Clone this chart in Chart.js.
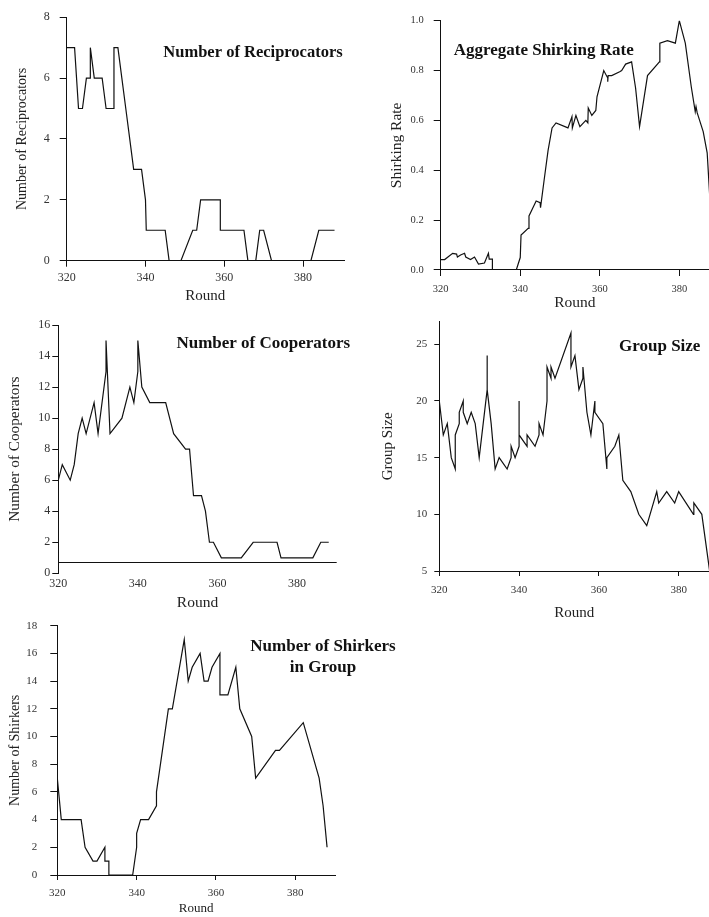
<!DOCTYPE html>
<html>
<head>
<meta charset="utf-8">
<script src="https://cdn.jsdelivr.net/npm/chart.js@4.4.1/dist/chart.umd.min.js"></script>
<style>
  body { margin: 0; background: #fff; }
  #wrap { position: relative; width: 709px; height: 917px; overflow: hidden; }
  #wrap canvas { position: absolute; left: 0; top: 0; }
</style>
</head>
<body>
<div id="wrap">
  <canvas id="recip" width="709" height="917"></canvas>
  <canvas id="shirkRate" width="709" height="917"></canvas>
  <canvas id="coop" width="709" height="917"></canvas>
  <canvas id="groupSize" width="709" height="917"></canvas>
  <canvas id="shirkers" width="709" height="917"></canvas>
</div>
<script>
'use strict'
/* global Chart */

// shared x axis
const roundTicks = [320, 340, 360, 380]

// Number of Reciprocators
const recipRounds = [320, 322, 323, 324, 325, 326, 326, 327, 329, 330, 332, 332, 333, 334, 335, 336, 337, 339, 340, 340.2, 345, 346, 349, 352, 353, 354, 359, 359, 365, 366, 368, 369, 370, 372, 382, 384, 388]
const recipValues = [7, 7, 5, 5, 6, 6, 7, 6, 6, 5, 5, 7, 7, 6, 5, 4, 3, 3, 2, 1, 1, 0, 0, 1, 1, 2, 2, 1, 1, 0, 0, 1, 1, 0, 0, 1, 1]
const recipTicks = [0, 2, 4, 6, 8]

// Aggregate Shirking Rate
const rateRounds = [320, 321, 323, 324, 324.2, 325, 326, 326.3, 327.5, 328.5, 329.5, 331, 332, 332.2, 333, 333, 339, 340, 340.2, 342, 342.2, 344, 345, 345.1, 346, 347, 348, 349, 352, 353, 353.1, 354, 355, 356.5, 357, 357.1, 358, 359, 359.3, 361, 362, 362, 362.1, 363, 365, 365.5, 366.5, 368, 369, 370, 372, 375, 375.1, 377, 379, 380, 381.5, 383, 384, 384.2, 384.5, 386, 387, 388]
const rateValues = [0.042, 0.042, 0.067, 0.064, 0.052, 0.06, 0.067, 0.052, 0.042, 0.052, 0.024, 0.028, 0.067, 0.044, 0.044, 0, 0, 0.05, 0.14, 0.167, 0.217, 0.277, 0.27, 0.25, 0.36, 0.48, 0.57, 0.59, 0.57, 0.615, 0.57, 0.62, 0.575, 0.6, 0.59, 0.65, 0.62, 0.64, 0.695, 0.8, 0.77, 0.755, 0.78, 0.78, 0.795, 0.8, 0.826, 0.835, 0.73, 0.575, 0.78, 0.835, 0.91, 0.92, 0.91, 1.0, 0.91, 0.735, 0.635, 0.655, 0.63, 0.555, 0.47, 0.2]
const rateTicks = [0, 0.2, 0.4, 0.6, 0.8, 1.0]

// Number of Cooperators
const coopRounds = [320, 321, 323, 324, 325, 326, 327, 329, 330, 332, 332, 333, 336, 338, 339, 340, 340, 341, 343, 347, 349, 352, 353, 354, 356, 357, 358, 359, 361, 366, 369, 375, 376, 384, 386, 388]
const coopValues = [6, 7, 6, 7, 9, 10, 9, 11, 9, 13, 15, 9, 10, 12, 11, 13, 15, 12, 11, 11, 9, 8, 8, 5, 5, 4, 2, 2, 1, 1, 2, 2, 1, 1, 2, 2]
const coopTicks = [0, 2, 4, 6, 8, 10, 12, 14, 16]
const coopBaseline = 0.7

// Group Size
const groupRounds = [320, 321, 322, 323, 324, 324, 325, 325, 326, 326, 327, 328, 329, 330, 332, 332, 332, 333, 334, 335, 337, 338, 338, 339, 340, 340, 340, 342, 342, 344, 345, 345, 346, 347, 347, 348, 348, 349, 353, 353, 354, 355, 356, 356, 357, 358, 359, 359, 361, 362, 362, 364, 365, 366, 368, 370, 372, 374.5, 375, 377, 379, 380, 383.7, 383.8, 385.8, 388]
const groupValues = [20, 17, 18, 15, 14, 17, 18, 19, 20, 19, 18, 19, 18, 15, 21, 24, 21, 18, 14, 15, 14, 15, 16, 15, 16, 20, 17, 16, 17, 16, 17, 18, 17, 20, 23, 22, 23, 22, 26, 23, 24, 21, 22, 23, 19, 17, 20, 19, 18, 14, 15, 16, 17, 13, 12, 10, 9, 12, 11, 12, 11, 12, 10, 11, 10, 4.4]
const groupTicks = [5, 10, 15, 20, 25]

// Number of Shirkers in Group
const shirkRounds = [320, 321, 326, 327, 329, 330, 332, 332, 333, 333, 339, 340, 340, 341, 343, 345, 345, 348, 349, 352, 353, 354, 356, 357, 358, 359, 361, 361, 363, 365, 366, 369, 370, 375, 376, 382, 386, 387, 388]
const shirkValues = [7, 4, 4, 2, 1, 1, 2, 1, 1, 0, 0, 2, 3, 4, 4, 5, 6, 12, 12, 17, 14, 15, 16, 14, 14, 15, 16, 13, 13, 15, 12, 10, 7, 9, 9, 11, 7, 5, 2]
const shirkTicks = [0, 2, 4, 6, 8, 10, 12, 14, 16, 18]

const W = 709
const H = 917
const serif = "'Liberation Serif', 'Times New Roman', serif"
const ink = '#111'

// bold panel heading drawn inside the plot
const panelTitle = {
  id: 'panelTitle',
  afterDraw (chart, args, opts) {
    const ctx = chart.ctx
    ctx.save()
    ctx.fillStyle = ink
    ctx.font = `bold ${opts.size}px ${serif}`
    ctx.textAlign = 'center'
    ctx.textBaseline = 'middle'
    opts.lines.forEach((line, i) => ctx.fillText(line, opts.x, opts.y + i * opts.gap))
    ctx.restore()
  }
}

// horizontal axis line drawn at a y value (cooperators panel)
const baseline = {
  id: 'baseline',
  afterDraw (chart, args, opts) {
    if (opts.value === undefined) return
    const { ctx, chartArea, scales } = chart
    const y = Math.round(scales.y.getPixelForValue(opts.value)) + 0.5
    ctx.save()
    ctx.strokeStyle = ink
    ctx.lineWidth = 1
    ctx.beginPath()
    ctx.moveTo(chartArea.left, y)
    ctx.lineTo(chartArea.right, y)
    ctx.stroke()
    ctx.restore()
  }
}

const panel = (id, p) => new Chart(document.getElementById(id), {
  type: 'line',
  data: {
    datasets: [{
      data: p.rounds.map((r, i) => ({ x: r, y: p.values[i] })),
      borderColor: ink,
      borderWidth: 1.2,
      pointRadius: 0,
      tension: 0,
      fill: false
    }]
  },
  options: {
    responsive: false,
    animation: false,
    events: [],
    layout: {
      padding: {
        left: p.box.left - p.yWidth,
        top: p.box.top,
        right: W - p.box.right,
        bottom: H - p.box.bottom - p.xHeight
      }
    },
    plugins: {
      legend: { display: false },
      tooltip: { enabled: false },
      panelTitle: p.title,
      baseline: { value: p.baseline }
    },
    scales: {
      x: {
        type: 'linear',
        min: 320,
        max: p.xMax,
        afterBuildTicks: s => { s.ticks = roundTicks.map(v => ({ value: v })) },
        afterFit: s => { s.height = p.xHeight },
        grid: { display: p.xTickLen > 0, drawOnChartArea: false, tickLength: p.xTickLen, color: ink },
        border: { display: !p.baseline, color: ink, width: 1 },
        ticks: { color: '#333', padding: p.xTickPad, maxRotation: 0, font: { family: serif, size: p.tickSize } },
        title: { display: true, text: 'Round', color: '#222', padding: 0, font: { family: serif, size: p.xTitleSize } }
      },
      y: {
        min: p.yTicks[0],
        max: p.yMax,
        afterBuildTicks: s => { s.ticks = p.yTicks.map(v => ({ value: v })) },
        afterFit: s => { s.width = p.yWidth },
        grid: { drawOnChartArea: false, tickLength: p.yTickLen, color: ink },
        border: { display: true, color: ink, width: 1 },
        ticks: { color: '#333', padding: p.yTickPad, font: { family: serif, size: p.tickSize }, callback: p.fmt || (v => v) },
        title: { display: true, text: p.yTitle, color: '#222', padding: 0, font: { family: serif, size: p.yTitleSize } }
      }
    }
  },
  plugins: [panelTitle, baseline]
})

panel('recip', {
  rounds: recipRounds, values: recipValues, yTicks: recipTicks, yMax: 8,
  box: { left: 66.7, top: 11, right: 344, bottom: 260.7 }, xMax: 390.4,
  yWidth: 53.1, xHeight: 44.3, tickSize: 12,
  yTickLen: 7, yTickPad: 10, xTickLen: 6, xTickPad: 4,
  yTitle: 'Number of Reciprocators', yTitleSize: 14, xTitleSize: 15,
  title: { lines: ['Number of Reciprocators'], x: 253, y: 53, size: 16.5, gap: 0 }
})

panel('shirkRate', {
  rounds: rateRounds, values: rateValues, yTicks: rateTicks, yMax: 1,
  box: { left: 440.7, top: 20.7, right: 709, bottom: 270 }, xMax: 387.46,
  yWidth: 53.3, xHeight: 42.3, tickSize: 10.5,
  yTickLen: 7, yTickPad: 10, xTickLen: 6, xTickPad: 7,
  fmt: v => v.toFixed(1),
  yTitle: 'Shirking Rate', yTitleSize: 15.5, xTitleSize: 15.5,
  title: { lines: ['Aggregate Shirking Rate'], x: 543.7, y: 50.7, size: 17, gap: 0 }
})

panel('coop', {
  rounds: coopRounds, values: coopValues, yTicks: coopTicks, yMax: 16,
  box: { left: 58.3, top: 325, right: 336.7, bottom: 573.3 }, xMax: 390,
  yWidth: 52.5, xHeight: 38.7, tickSize: 12,
  yTickLen: 6, yTickPad: 2, xTickLen: 0, xTickPad: 3,
  baseline: coopBaseline,
  yTitle: 'Number of Cooperators', yTitleSize: 15.3, xTitleSize: 15.5,
  title: { lines: ['Number of Cooperators'], x: 263.3, y: 344, size: 17, gap: 0 }
})

panel('groupSize', {
  rounds: groupRounds, values: groupValues, yTicks: groupTicks, yMax: 27,
  box: { left: 439.3, top: 321.6, right: 709, bottom: 571 }, xMax: 387.6,
  yWidth: 60.3, xHeight: 51, tickSize: 11,
  yTickLen: 5, yTickPad: 7, xTickLen: 5, xTickPad: 8,
  yTitle: 'Group Size', yTitleSize: 15, xTitleSize: 15,
  title: { lines: ['Group Size'], x: 659.7, y: 346.7, size: 17, gap: 0 }
})

panel('shirkers', {
  rounds: shirkRounds, values: shirkValues, yTicks: shirkTicks, yMax: 18,
  box: { left: 57.3, top: 625.7, right: 335, bottom: 875 }, xMax: 390,
  yWidth: 50.7, xHeight: 41.1, tickSize: 11,
  yTickLen: 7, yTickPad: 13, xTickLen: 5, xTickPad: 7,
  yTitle: 'Number of Shirkers', yTitleSize: 14, xTitleSize: 13,
  title: { lines: ['Number of Shirkers', 'in Group'], x: 323, y: 646.7, size: 17, gap: 21 }
})
</script>
</body>
</html>
